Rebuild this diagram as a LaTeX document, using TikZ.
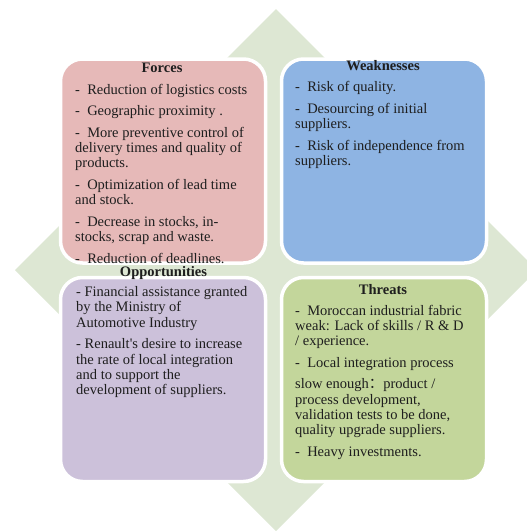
\documentclass[tikz,border=0pt]{standalone}
\usepackage{fontspec}
\setmainfont{Liberation Serif}
\newfontfamily\cjk{Noto Sans CJK SC}
\definecolor{diamondc}{HTML}{DDE7D3}
\definecolor{pinkc}{HTML}{E6B9B8}
\definecolor{bluec}{HTML}{8EB4E3}
\definecolor{lavc}{HTML}{CCC1DA}
\definecolor{greenc}{HTML}{C3D69B}
\definecolor{textc}{HTML}{1E1E1E}
\newcommand\boxtext[1]{\parbox[t]{230pt}{\raggedright\fontsize{14.5}{15.2}\selectfont\setlength{\parskip}{6.5pt}#1}}
\tikzset{
  quad/.style={rounded corners=22pt, draw=white, line width=3.5pt, minimum width=205pt, minimum height=204pt, inner sep=0pt},
  body/.style={anchor=base west, inner sep=0pt, text=textc},
  ttl/.style={anchor=base, inner sep=0pt, text=textc, font=\fontsize{14.5}{15.2}\selectfont\bfseries}
}
\begin{document}
\begin{tikzpicture}[x=1pt,y=-1pt]
\useasboundingbox (0,0) rectangle (527,531);
\clip (0,0) rectangle (527,531);
\fill[diamondc] (276,9) -- (537,270) -- (276,531) -- (15,270) -- cycle;

\node[quad, fill=pinkc] (forcesbox) at (163,161) {};
\node[quad, fill=bluec] (weakbox) at (384,161) {};
\node[quad, fill=lavc] (oppbox) at (163,379.5) {};
\node[quad, fill=greenc] (threatbox) at (384,379.5) {};

\node[ttl] (forcestitle) at (162,72.5) {Forces};
\node[ttl] (weaktitle) at (383,70.7) {Weaknesses};
\node[ttl] (opptitle) at (163.5,276.2) {Opportunities};
\node[ttl] (threattitle) at (383,294) {Threats};

\node[body] (forcestext) at (75,94) {\boxtext{%
-\ \ Reduction of logistics costs\par
-\ \ Geographic proximity .\par
-\ \ More preventive control of\\delivery times and quality of\\products.\par
-\ \ Optimization of lead time\\and stock.\par
-\ \ Decrease in stocks, in-\\stocks, scrap and waste.\par
-\ \ Reduction of deadlines.}};

\node[body] (weaktext) at (295,91.7) {\boxtext{%
-\ \ Risk of quality.\par
-\ \ Desourcing of initial\\suppliers.\par
-\ \ Risk of independence from\\suppliers.}};

\node[body] (opptext) at (76,296.7) {\boxtext{%
- Financial assistance granted\\by the Ministry of\\Automotive Industry\par
- Renault\textquotesingle s desire to increase\\the rate of local integration\\and to support the\\development of suppliers.}};

\node[body] (threattext) at (295,315) {\boxtext{%
-\ \ Moroccan industrial fabric\\weak: Lack of skills / R \& D\\/ experience.\par
-\ \ Local integration process\par
slow enough{\cjk ：}product /\\process development,\\validation tests to be done,\\quality upgrade suppliers.\par
-\ \ Heavy investments.}};
\end{tikzpicture}
\end{document}
